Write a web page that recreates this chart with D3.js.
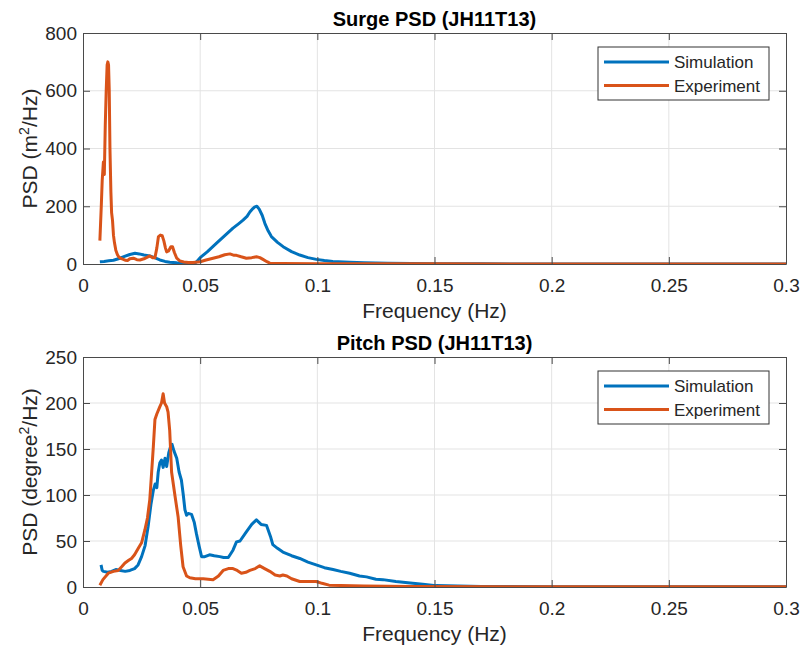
<!DOCTYPE html>
<html>
<head>
<meta charset="utf-8">
<script src="https://cdn.jsdelivr.net/npm/d3@7"></script>
<style>
  body { margin: 0; background: #fff; }
  svg { display: block; font-family: "Liberation Sans", Arial, Helvetica, sans-serif; }
  .grid line { stroke: #e3e3e3; stroke-width: 1; }
  .tick text { fill: #262626; }
</style>
</head>
<body>
<svg width="805" height="646"></svg>
<script>
// ---- data ----
var xTicks = [0, 0.05, 0.1, 0.15, 0.2, 0.25, 0.3];
var surgeTicks = [0, 200, 400, 600, 800];
var pitchTicks = [0, 50, 100, 150, 200, 250];
var seriesNames = ["Simulation", "Experiment"];

// surge, simulation
var surgeSimF = [0.0072, 0.009, 0.011, 0.013, 0.0158, 0.018, 0.020, 0.0222, 0.024, 0.026, 0.0285, 0.0305, 0.0328, 0.035, 0.037, 0.040, 0.043, 0.046, 0.0475,
  0.0485, 0.050, 0.053, 0.057, 0.0605, 0.064, 0.0665, 0.0683, 0.070, 0.0712, 0.0725, 0.0733, 0.0742, 0.0752, 0.0765, 0.0776, 0.079, 0.0804,
  0.083, 0.0854, 0.089, 0.0925, 0.096, 0.0996, 0.103, 0.1066, 0.1138, 0.12, 0.13, 0.14, 0.15, 0.17, 0.2, 0.3];
var surgeSim = [8, 9, 11, 13, 20, 27, 33, 37, 35, 31, 28, 22, 14, 9, 6, 4, 3, 1, 1,
  8, 22, 42, 72, 98, 124, 140, 152, 165, 180, 192, 198, 200, 190, 168, 141, 115, 95,
  75, 60, 43, 31, 22, 16, 12, 9, 6, 4, 2.5, 1.5, 1, 0.5, 0.3, 0.2];

// surge, experiment
var surgeExpF = [0.0072, 0.0078, 0.0082, 0.0087, 0.0091, 0.0095, 0.0099, 0.0103, 0.0106, 0.0109, 0.0112, 0.0115, 0.0119, 0.0122, 0.0126, 0.0130,
  0.0134, 0.014, 0.0147, 0.0153, 0.016, 0.017, 0.018, 0.019, 0.020, 0.0215, 0.023, 0.0243, 0.026, 0.0275, 0.0285, 0.0297, 0.0307,
  0.0315, 0.0322, 0.033, 0.0338, 0.0345, 0.0352, 0.0357, 0.0365, 0.0375, 0.0382, 0.039, 0.040, 0.0413, 0.043, 0.045, 0.047,
  0.050, 0.0525, 0.0555, 0.058, 0.0605, 0.0627, 0.0645, 0.0655, 0.0675, 0.0697, 0.072, 0.074, 0.0755, 0.0768, 0.0785, 0.0797,
  0.085, 0.1, 0.15, 0.2, 0.3];
var surgeExp = [81, 200, 290, 353, 310, 480, 600, 690, 700, 690, 600, 400, 250, 178, 150, 100,
  75, 48, 32, 24, 20, 17, 13, 12, 18, 20, 15, 14, 18, 24, 28, 22, 22,
  55, 95, 100, 98, 80, 55, 42, 45, 60, 60, 40, 20, 11, 7, 5, 5,
  8, 14, 20, 25, 32, 35, 30, 30, 25, 20, 22, 25, 22, 16, 8, 3,
  2, 1, 0.5, 0.3, 0.2];

// pitch, simulation
var pitchSimF = [0.0077, 0.0082, 0.0087, 0.0105, 0.0122, 0.014, 0.016, 0.018, 0.020, 0.022, 0.0235, 0.025, 0.0265, 0.0278, 0.029, 0.030,
  0.0308, 0.0315, 0.0321, 0.0328, 0.0335, 0.0342, 0.035, 0.0357, 0.0366, 0.0373, 0.038, 0.0388, 0.040, 0.041, 0.042, 0.0428,
  0.0435, 0.0442, 0.0449, 0.0463, 0.0475, 0.0484, 0.0495, 0.0506, 0.052, 0.054, 0.056, 0.0584, 0.060, 0.062, 0.064, 0.0655,
  0.067, 0.0697, 0.072, 0.074, 0.076, 0.0783, 0.080, 0.081, 0.083, 0.0853, 0.089, 0.0925, 0.096, 0.0995, 0.103, 0.1067,
  0.11, 0.1138, 0.118, 0.121, 0.125, 0.128, 0.1335, 0.1407, 0.145, 0.1507, 0.16, 0.17, 0.2, 0.3];
var pitchSim = [24, 18, 17, 16, 17, 19, 18, 17, 18, 20, 24, 33, 45, 66, 90, 105,
  112, 108, 125, 135, 138, 130, 140, 131, 146, 152, 155, 148, 140, 125, 116, 100,
  84, 78, 80, 79, 70, 58, 45, 33, 33, 35, 34, 33, 32, 32, 40, 49,
  50, 60, 68, 73, 68, 67, 55, 46, 42, 38, 34, 31, 27, 24, 21, 19,
  17, 15, 12, 11, 8.5, 8, 6, 4, 3, 1.5, 1, 0.5, 0.3, 0.2];

// pitch, experiment
var pitchExpF = [0.0072, 0.0085, 0.0108, 0.013, 0.015, 0.0165, 0.0179, 0.0195, 0.0207, 0.022, 0.0236, 0.025, 0.0264, 0.0275, 0.0285, 0.0293,
  0.030, 0.0307, 0.0315, 0.0328, 0.0335, 0.0342, 0.0348, 0.0357, 0.0363, 0.037, 0.0378, 0.0392, 0.0406, 0.0417, 0.0427, 0.0442,
  0.0456, 0.048, 0.0513, 0.0555, 0.0578, 0.0598, 0.062, 0.064, 0.0658, 0.0676, 0.0695, 0.0712, 0.0735, 0.0754, 0.0775, 0.0797,
  0.082, 0.084, 0.0853, 0.087, 0.089, 0.0925, 0.096, 0.0995, 0.102, 0.105, 0.11, 0.12, 0.14, 0.2, 0.3];
var pitchExp = [2, 8, 15, 17, 18, 22, 26, 29, 31, 35, 42, 48, 62, 75, 95, 125,
  152, 182, 188, 196, 200, 210, 200, 196, 190, 170, 125, 100, 76, 45, 22, 12,
  10, 9, 9, 8, 12, 18, 20, 20, 18, 15, 16, 18, 20, 23, 20, 17,
  13, 12, 13, 12, 9, 6, 6, 6, 4, 2, 1.5, 1, 0.5, 0.3, 0.2];

var colors = ["#0072BD", "#D95319"];

var svg = d3.select("svg");

var left = 83, right = 786;

var x = d3.scaleLinear().domain([0, 0.3]).range([left, right]);

function pairs(f, v) {
  return f.map(function(d, i) { return [d, v[i]]; });
}

function panel(opt) {
  var y = d3.scaleLinear().domain([0, opt.yMax]).range([opt.bottom, opt.top]);
  var g = svg.append("g");

  // grid
  g.append("g").attr("class", "grid")
    .selectAll("line.gx").data(xTicks.slice(1, -1)).enter().append("line")
    .attr("x1", function(d) { return x(d); }).attr("x2", function(d) { return x(d); })
    .attr("y1", opt.top).attr("y2", opt.bottom);
  g.append("g").attr("class", "grid")
    .selectAll("line.gy").data(opt.yTicks.slice(1, -1)).enter().append("line")
    .attr("x1", left).attr("x2", right)
    .attr("y1", function(d) { return y(d); }).attr("y2", function(d) { return y(d); });

  // lines
  var clipId = "clip" + opt.id;
  g.append("clipPath").attr("id", clipId).append("rect")
    .attr("x", left).attr("y", opt.top - 2).attr("width", right - left).attr("height", opt.bottom - opt.top + 3);

  var line = d3.line()
    .x(function(d) { return x(d[0]); })
    .y(function(d) { return y(d[1]); });

  g.append("g").attr("clip-path", "url(#" + clipId + ")")
    .selectAll("path").data(opt.series).enter().append("path")
    .attr("d", function(d) { return line(d); })
    .attr("fill", "none")
    .attr("stroke", function(d, i) { return colors[i]; })
    .attr("stroke-width", 3)
    .attr("stroke-linejoin", "round");

  // axes (ticks inward, box on)
  var axB = d3.axisBottom(x).tickValues(xTicks).tickSizeInner(-7).tickSizeOuter(0)
    .tickFormat(function(d) { return String(d); });
  var axT = d3.axisTop(x).tickValues(xTicks).tickSizeInner(-7).tickSizeOuter(0).tickFormat("");
  var axL = d3.axisLeft(y).tickValues(opt.yTicks).tickSizeInner(-7).tickSizeOuter(0);
  var axR = d3.axisRight(y).tickValues(opt.yTicks).tickSizeInner(-7).tickSizeOuter(0).tickFormat("");

  var gb = g.append("g").attr("transform", "translate(0," + opt.bottom + ")").call(axB);
  gb.selectAll("text").attr("dy", null).attr("y", 28).style("font-size", "19px");
  g.append("g").attr("transform", "translate(0," + opt.top + ")").call(axT);
  var gl = g.append("g").attr("transform", "translate(" + left + ",0)").call(axL);
  gl.selectAll("text").attr("x", -6).style("font-size", "19px");
  g.append("g").attr("transform", "translate(" + right + ",0)").call(axR);

  g.selectAll(".domain").attr("stroke", "#4a4a4a");
  g.selectAll(".tick line").attr("stroke", "#4a4a4a");

  // title
  g.append("text")
    .attr("x", (left + right) / 2).attr("y", opt.top - 7)
    .attr("text-anchor", "middle")
    .style("font-size", "20px").style("font-weight", "bold")
    .text(opt.title);

  // x label
  g.append("text")
    .attr("x", (left + right) / 2).attr("y", opt.bottom + 54)
    .attr("text-anchor", "middle")
    .style("font-size", "21px").attr("fill", "#262626")
    .text("Frequency (Hz)");

  // y label
  var yl = g.append("text")
    .attr("transform", "translate(37," + ((opt.top + opt.bottom) / 2) + ") rotate(-90)")
    .attr("text-anchor", "middle")
    .style("font-size", "21px").attr("fill", "#262626");
  yl.append("tspan").text(opt.yLabel[0]);
  yl.append("tspan").attr("baseline-shift", "super").style("font-size", "14px").text("2");
  yl.append("tspan").text(opt.yLabel[1]);

  // legend
  var lg = g.append("g").attr("transform", "translate(598," + (opt.top + 14) + ")");
  lg.append("rect").attr("width", 171).attr("height", 53)
    .attr("fill", "#fff").attr("stroke", "#333").attr("stroke-width", 1);
  seriesNames.forEach(function(name, i) {
    var yy = 15 + i * 23.5;
    lg.append("line").attr("x1", 6).attr("x2", 71).attr("y1", yy).attr("y2", yy)
      .attr("stroke", colors[i]).attr("stroke-width", 3);
    lg.append("text").attr("x", 76).attr("y", yy + 6)
      .style("font-size", "17px").attr("fill", "#262626").text(name);
  });
}

panel({
  id: 1, top: 33, bottom: 264, yMax: 800, yTicks: surgeTicks,
  title: "Surge PSD (JH11T13)", yLabel: ["PSD (m", "/Hz)"],
  series: [pairs(surgeSimF, surgeSim), pairs(surgeExpF, surgeExp)]
});

panel({
  id: 2, top: 357, bottom: 587, yMax: 250, yTicks: pitchTicks,
  title: "Pitch PSD (JH11T13)", yLabel: ["PSD (degree", "/Hz)"],
  series: [pairs(pitchSimF, pitchSim), pairs(pitchExpF, pitchExp)]
});
</script>
</body>
</html>
